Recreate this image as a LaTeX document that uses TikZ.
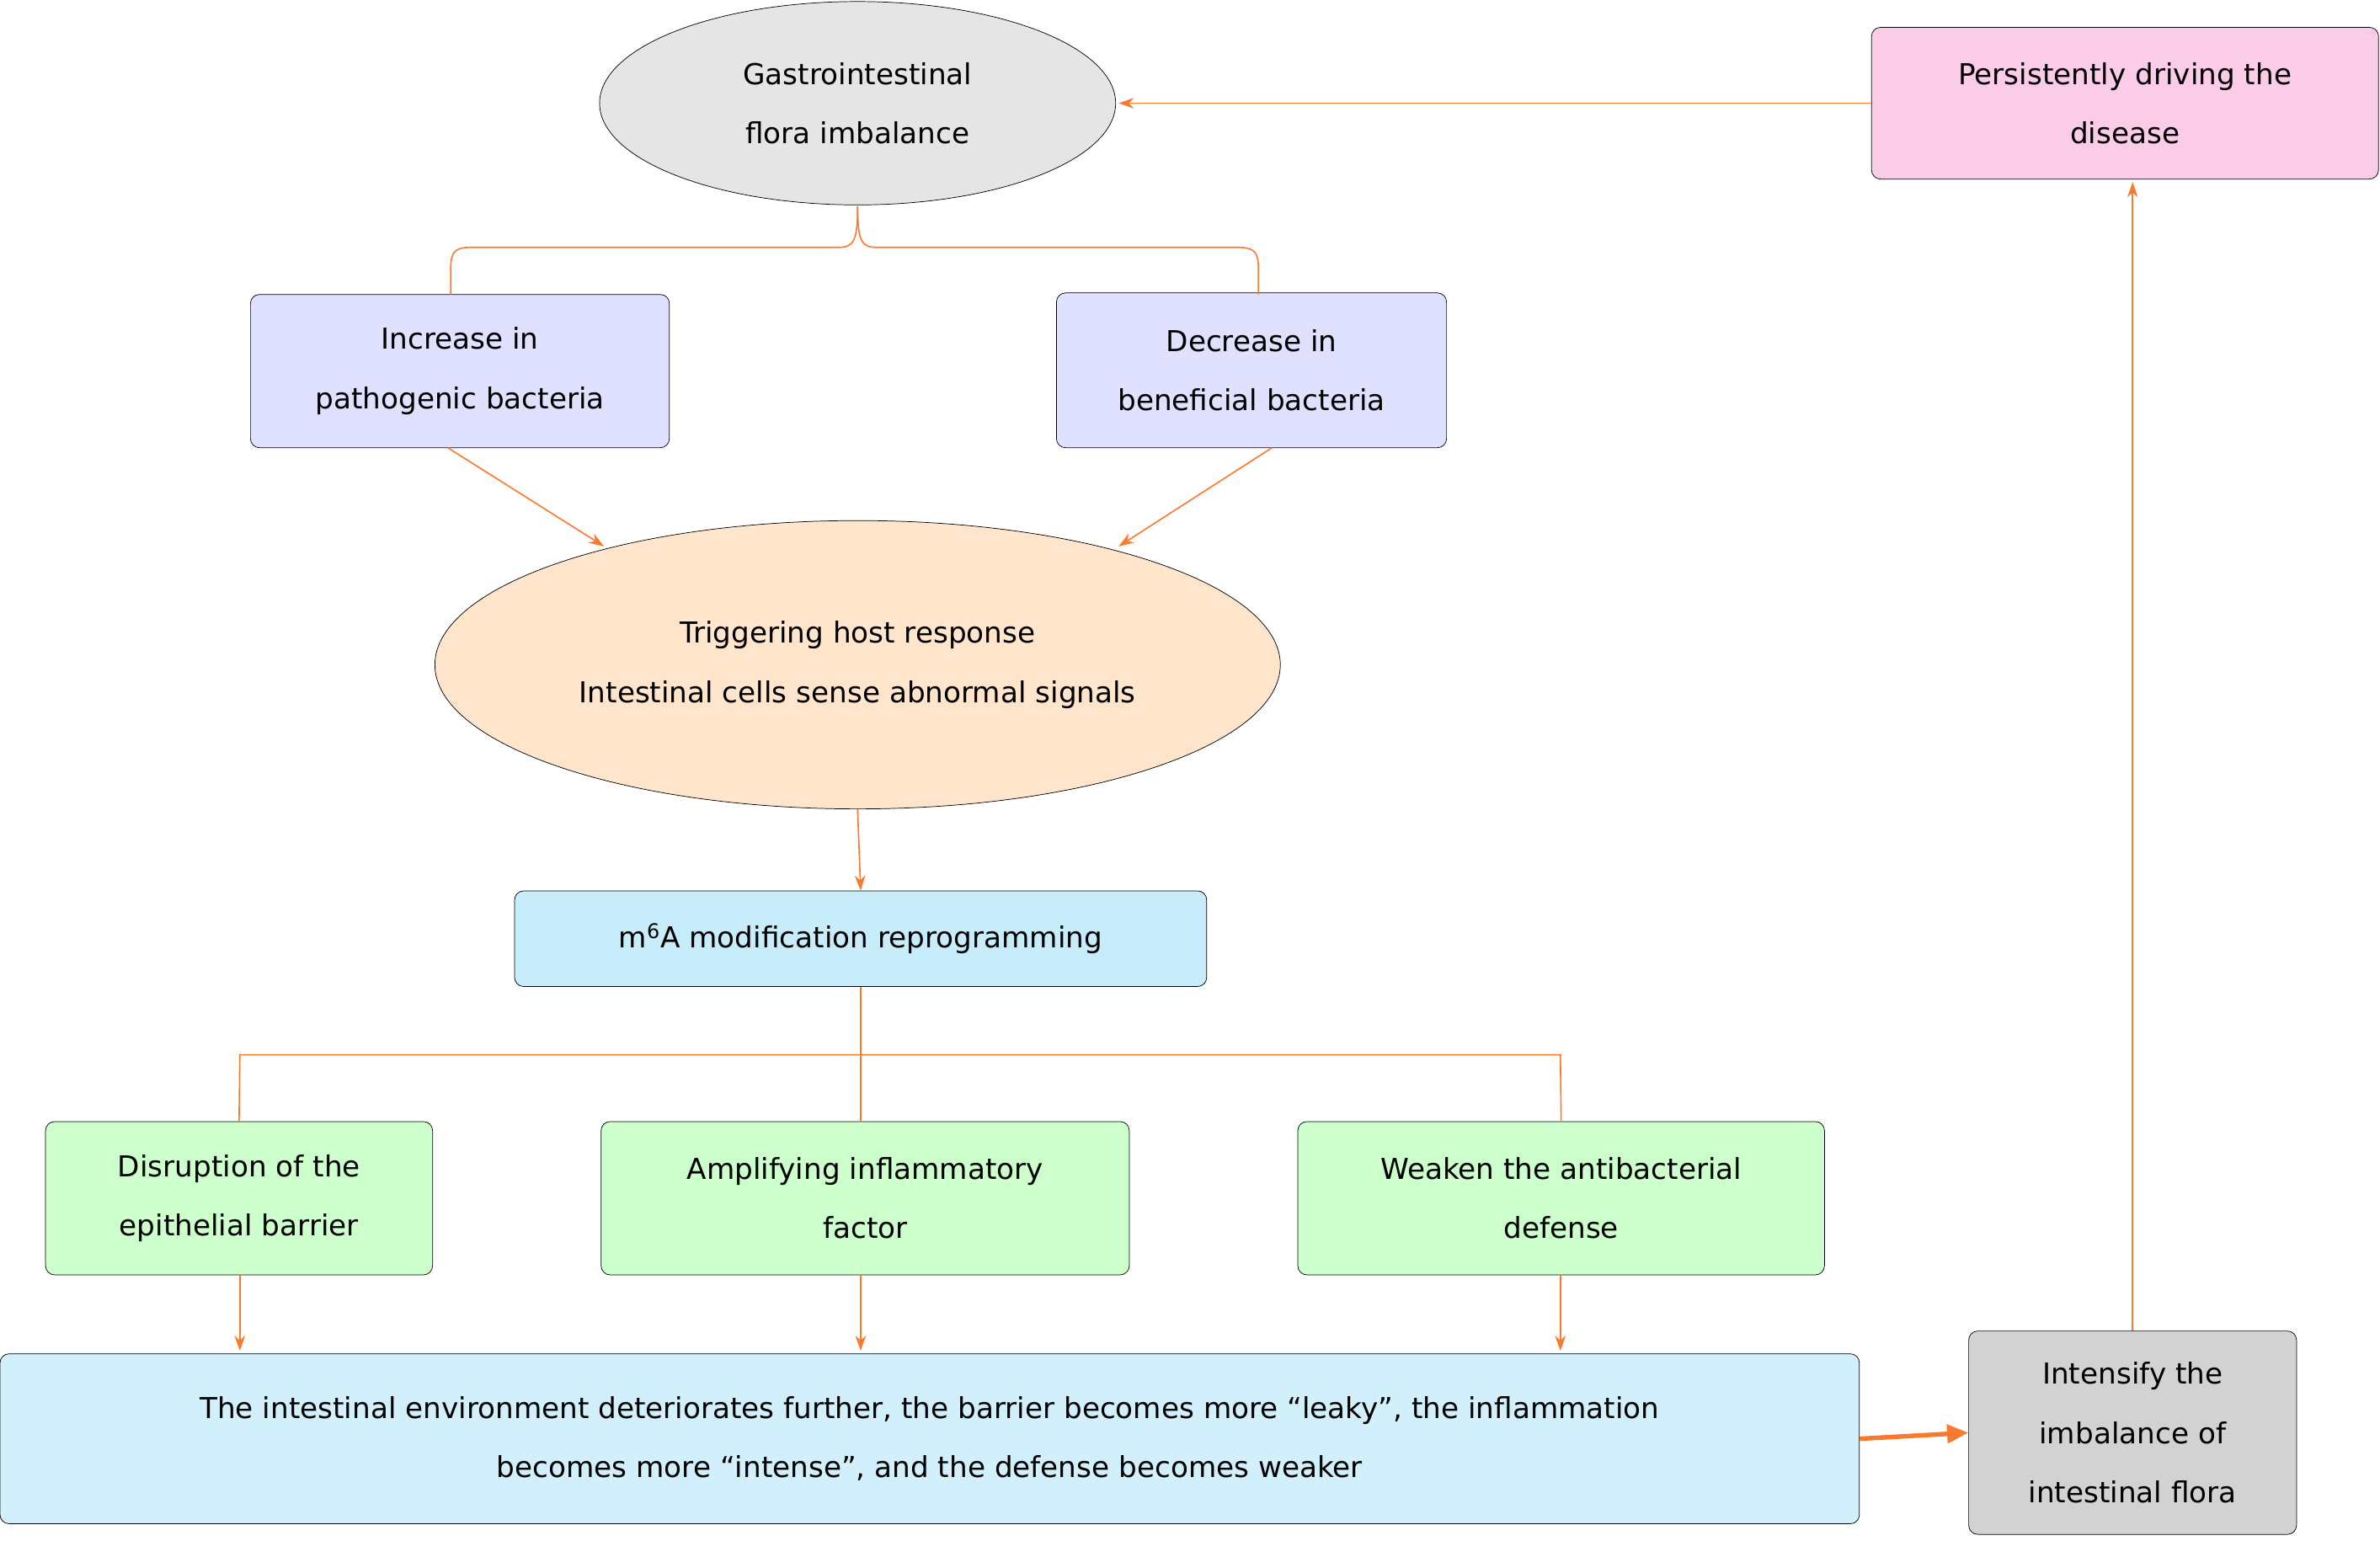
\documentclass[tikz,border=0pt]{standalone}
\usepackage{fontspec}
\setmainfont{DejaVu Sans}
\usetikzlibrary{arrows.meta,shapes.geometric}
\definecolor{org}{HTML}{F97A2E}
\tikzset{x=1pt,y=-1pt,
 box/.style={draw,rounded corners=6pt,align=center,inner sep=0pt,font=\fontsize{19}{39}\selectfont},
 ell/.style={draw,ellipse,align=center,inner sep=0pt,font=\fontsize{19}{39}\selectfont},
 con/.style={draw=org,line width=0.9pt},
 arr/.style={con,-{Stealth[length=10pt,width=7pt]}}}
\begin{document}
\begin{tikzpicture}
\useasboundingbox (0,0) rectangle (1568,1015);
\node[ell,fill=gray!20,minimum width=340pt,minimum height=134pt] (g) at (565,68) {Gastrointestinal\\flora imbalance};
\node[box,fill=magenta!20!white,minimum width=334pt,minimum height=100pt] (p) at (1400,68) {Persistently driving the\\disease};
\node[box,fill=blue!12!white,minimum width=276pt,minimum height=101pt] (inc) at (303,244.5) {Increase in\\pathogenic bacteria};
\node[box,fill=blue!12!white,minimum width=257pt,minimum height=102pt] (dec) at (824.5,244) {Decrease in\\beneficial bacteria};
\node[ell,fill=orange!20!white,minimum width=557pt,minimum height=190pt] (t) at (565,438) {Triggering host response\\Intestinal cells sense abnormal signals};
\node[box,fill=cyan!22!white,minimum width=456pt,minimum height=63pt] (m) at (567,618.5) {m\textsuperscript{6}A modification reprogramming};
\node[box,fill=green!20!white,minimum width=255pt,minimum height=101pt] (d1) at (157.5,789.5) {Disruption of the\\epithelial barrier};
\node[box,fill=green!20!white,minimum width=348pt,minimum height=101pt] (d2) at (570,789.5) {Amplifying inflammatory\\factor};
\node[box,fill=green!20!white,minimum width=347pt,minimum height=101pt] (d3) at (1028.5,789.5) {Weaken the antibacterial\\defense};
\node[box,fill=cyan!18!white,minimum width=1225pt,minimum height=112pt] (b) at (612.5,948) {The intestinal environment deteriorates further, the barrier becomes more “leaky”, the inflammation\\becomes more “intense”, and the defense becomes weaker};
\node[box,fill=gray!35,minimum width=216pt,minimum height=134pt] (i) at (1405,944) {Intensify the\\imbalance of\\intestinal flora};
% brace
\draw[con] (297,194) -- (297,176) .. controls (297,166) and (300,163) .. (310,163) -- (552,163) .. controls (562,163) and (565,160) .. (565,136);
\draw[con] (829,194) -- (829,176) .. controls (829,166) and (826,163) .. (816,163) -- (578,163) .. controls (568,163) and (565,160) .. (565,136);
\coordinate (ia) at (295,295); \coordinate (ib) at (398,360);
\coordinate (da) at (838,295); \coordinate (db) at (737,360);
\draw[arr] (ia) -- (ib);
\draw[arr] (da) -- (db);
\draw[arr] (t.south) -- (m.north);
\coordinate (j) at (567,695);
\draw[con] (m.south) -- (j);
\draw[con] (d1.north) -- (158,695) -- (1028,695) -- (d3.north);
\draw[con] (j) -- (567,739);
\foreach \x/\n in {158/d1,567/d2,1028/d3}{
 \draw[arr] (\x,840) -- (\x,890);}
\draw[org,line width=3pt,-{Triangle[length=14pt,width=12pt]}] (b.east) -- (i.west);
\draw[arr] (i.north) -- (1405,120);
\draw[arr] (p.west) -- (737,68);
\end{tikzpicture}
\end{document}
